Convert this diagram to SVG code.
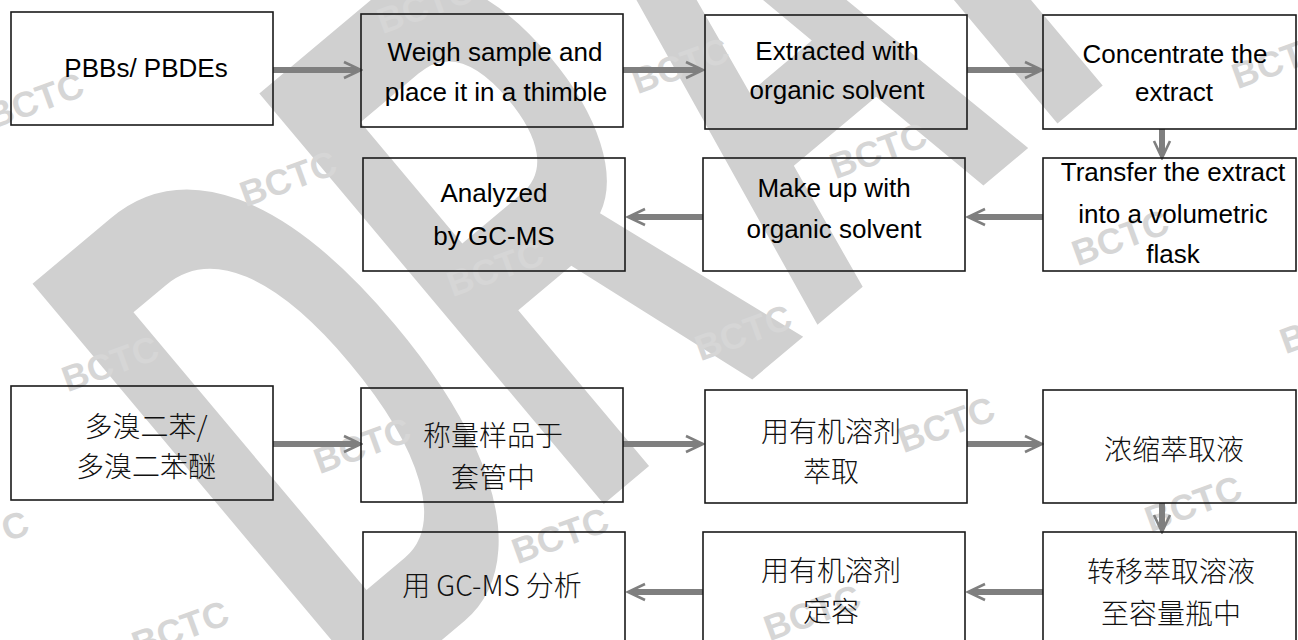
<svg xmlns="http://www.w3.org/2000/svg" width="1298" height="640" viewBox="0 0 1298 640">
<defs>
<style>
.box{fill:none;stroke:#1a1a1a;stroke-width:1.6}
.en{font-family:"Liberation Sans",Arial,sans-serif;font-size:26px;fill:#000;text-anchor:middle}
.zh{font-family:"Noto Sans CJK SC",sans-serif;font-size:28px;font-weight:300;fill:#111;text-anchor:middle}
.arr{fill:none;stroke:#7f7f7f;stroke-width:6}
.draft{font-family:"Liberation Sans",Arial,sans-serif;font-weight:bold;font-size:410px;fill:#d0d0d0}
.wm{font-family:"Liberation Sans",Arial,sans-serif;font-weight:bold;font-size:36px;fill:#d6d6d6;text-anchor:middle}
</style>
<marker id="ah" markerUnits="userSpaceOnUse" markerWidth="20" markerHeight="20" viewBox="0 0 20 20" refX="15" refY="10" orient="auto">
<path d="M1,2 L18,10 L1,18" fill="none" stroke="#7f7f7f" stroke-width="2.6"/>
</marker>
</defs>
<rect width="1298" height="640" fill="#fff"/>
<g id="watermark">
<text class="draft" transform="translate(356,712) rotate(-40) scale(1,1.9)">DRAFT</text>
<g class="wm">
<text transform="translate(35,100) rotate(-20)" y="13">BCTC</text>
<text transform="translate(288,178) rotate(-20)" y="13">BCTC</text>
<text transform="translate(425,5) rotate(-20)" y="13">BCTC</text>
<text transform="translate(680,65) rotate(-20)" y="13">BCTC</text>
<text transform="translate(878,150) rotate(-20)" y="13">BCTC</text>
<text transform="translate(495,268) rotate(-20)" y="13">BCTC</text>
<text transform="translate(743,332) rotate(-20)" y="13">BCTC</text>
<text transform="translate(1280,60) rotate(-20)" y="13">BCTC</text>
<text transform="translate(1120,237) rotate(-20)" y="13">BCTC</text>
<text transform="translate(1328,325) rotate(-20)" y="13">BCTC</text>
<text transform="translate(946,424) rotate(-20)" y="13">BCTC</text>
<text transform="translate(1193,503) rotate(-20)" y="13">BCTC</text>
<text transform="translate(812,612) rotate(-20)" y="13">BCTC</text>
<text transform="translate(110,363) rotate(-20)" y="13">BCTC</text>
<text transform="translate(362,445) rotate(-20)" y="13">BCTC</text>
<text transform="translate(-20,538) rotate(-20)" y="13">BCTC</text>
<text transform="translate(560,535) rotate(-20)" y="13">BCTC</text>
<text transform="translate(180,628) rotate(-20)" y="13">BCTC</text>
</g>
</g>
<g id="connectors">
<path class="arr" d="M273,70 H358" marker-end="url(#ah)"/>
<path class="arr" d="M623,70 H700" marker-end="url(#ah)"/>
<path class="arr" d="M967,70 H1039" marker-end="url(#ah)"/>
<path class="arr" d="M1162,129 V155" marker-end="url(#ah)"/>
<path class="arr" d="M1043,217 H971" marker-end="url(#ah)"/>
<path class="arr" d="M703,217 H631" marker-end="url(#ah)"/>
<path class="arr" d="M273,444 H358" marker-end="url(#ah)"/>
<path class="arr" d="M623,444 H700" marker-end="url(#ah)"/>
<path class="arr" d="M967,444 H1039" marker-end="url(#ah)"/>
<path class="arr" d="M1162,503 V529" marker-end="url(#ah)"/>
<path class="arr" d="M1043,592 H971" marker-end="url(#ah)"/>
<path class="arr" d="M703,592 H631" marker-end="url(#ah)"/>
</g>
<g id="n-pbbs"><rect class="box" x="11" y="12" width="262" height="113"/><text class="en" x="146" y="77">PBBs/ PBDEs</text></g>
<g id="n-weigh"><rect class="box" x="361" y="14" width="262" height="113"/><text class="en" x="495" y="61">Weigh sample and</text><text class="en" x="496" y="101">place it in a thimble</text></g>
<g id="n-extract"><rect class="box" x="705" y="15" width="262" height="114"/><text class="en" x="837" y="60">Extracted with</text><text class="en" x="837" y="99">organic solvent</text></g>
<g id="n-concentrate"><rect class="box" x="1043" y="15" width="253" height="114"/><text class="en" x="1175" y="63">Concentrate the</text><text class="en" x="1174" y="101">extract</text></g>
<g id="n-transfer"><rect class="box" x="1043" y="158" width="253" height="113"/><text class="en" x="1173" y="181">Transfer the extract</text><text class="en" x="1173" y="223">into a volumetric</text><text class="en" x="1173" y="263">flask</text></g>
<g id="n-makeup"><rect class="box" x="703" y="158" width="262" height="113"/><text class="en" x="834" y="197">Make up with</text><text class="en" x="834" y="238">organic solvent</text></g>
<g id="n-analyzed"><rect class="box" x="363" y="158" width="262" height="113"/><text class="en" x="494" y="202">Analyzed</text><text class="en" x="494" y="245">by GC-MS</text></g>
<g id="z-pbbs"><rect class="box" x="11" y="386" width="262" height="114"/><text class="zh" x="146" y="437">多溴二苯/</text><text class="zh" x="146" y="477">多溴二苯醚</text></g>
<g id="z-weigh"><rect class="box" x="361" y="388" width="262" height="114"/><text class="zh" x="493" y="446">称量样品于</text><text class="zh" x="493" y="488">套管中</text></g>
<g id="z-extract"><rect class="box" x="705" y="390" width="262" height="113"/><text class="zh" x="831" y="442">用有机溶剂</text><text class="zh" x="831" y="482">萃取</text></g>
<g id="z-concentrate"><rect class="box" x="1043" y="390" width="253" height="113"/><text class="zh" x="1174" y="460">浓缩萃取液</text></g>
<g id="z-transfer"><rect class="box" x="1043" y="532" width="253" height="130"/><text class="zh" x="1171" y="582">转移萃取溶液</text><text class="zh" x="1171" y="624">至容量瓶中</text></g>
<g id="z-makeup"><rect class="box" x="703" y="532" width="262" height="130"/><text class="zh" x="831" y="581">用有机溶剂</text><text class="zh" x="831" y="622">定容</text></g>
<g id="z-analyzed"><rect class="box" x="363" y="532" width="262" height="130"/><text class="zh" x="492" y="596">用 GC-MS 分析</text></g>
</svg>
